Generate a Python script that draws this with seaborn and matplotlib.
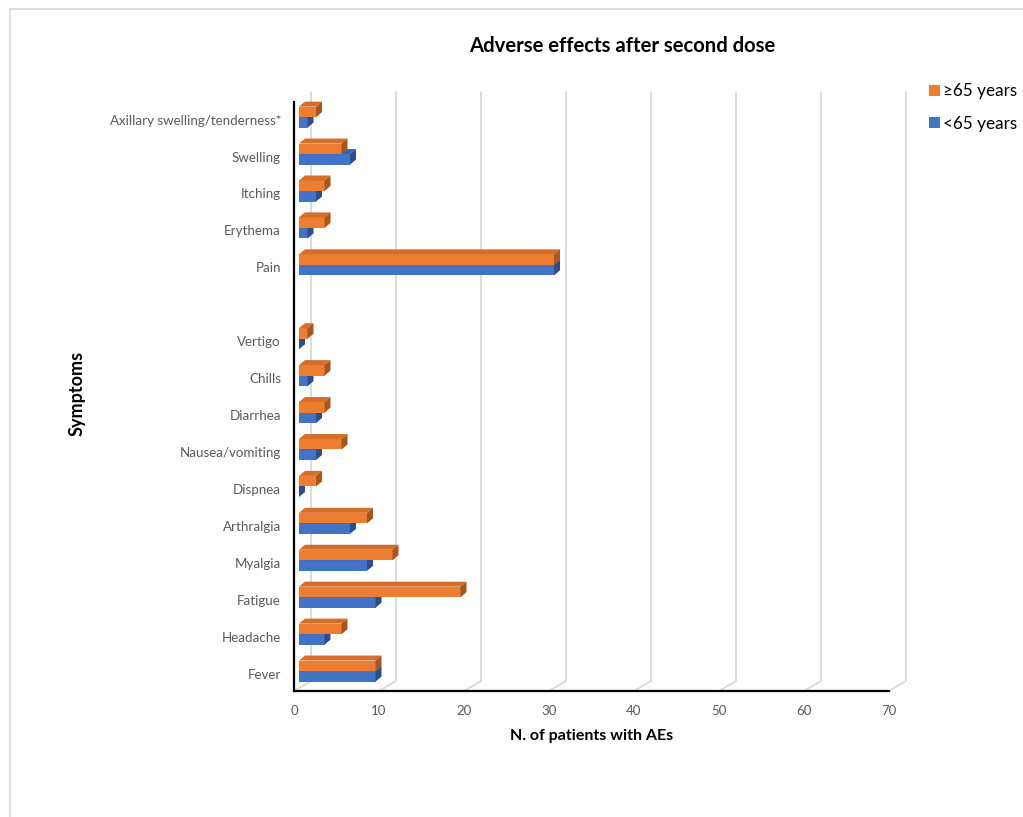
import numpy as np
import pandas as pd
import seaborn as sns
import matplotlib
matplotlib.use("Agg")
import matplotlib.pyplot as plt
from matplotlib.patches import Polygon, Patch
from matplotlib.lines import Line2D
from matplotlib.transforms import ScaledTranslation, IdentityTransform

# ---------------- data ----------------
categories = ["Axillary swelling/tenderness*", "Swelling", "Itching", "Erythema", "Pain",
              " ",
              "Vertigo", "Chills", "Diarrhea", "Nausea/vomiting", "Dispnea",
              "Arthralgia", "Myalgia", "Fatigue", "Headache", "Fever"]
symptoms = ["Axillary swelling/tenderness*", "Swelling", "Itching", "Erythema", "Pain",
            "Vertigo", "Chills", "Diarrhea", "Nausea/vomiting", "Dispnea",
            "Arthralgia", "Myalgia", "Fatigue", "Headache", "Fever"]
over65 = [2, 5, 3, 3, 30, 1, 3, 3, 5, 2, 8, 11, 19, 5, 9]
under65 = [1, 6, 2, 1, 30, 0, 1, 2, 2, 0, 6, 8, 9, 3, 9]
series = ["≥65 years", "<65 years"]
x_ticks = [0, 10, 20, 30, 40, 50, 60, 70]

df = pd.DataFrame({
    "Symptom": symptoms * 2,
    "Group": [series[0]] * len(symptoms) + [series[1]] * len(symptoms),
    "N": over65 + under65,
})

ORANGE = "#ED7D31"
BLUE = "#4472C4"
ORANGE_TOP = "#D46E2A"
ORANGE_SIDE = "#A9551C"
BLUE_TOP = "#3A63AE"
BLUE_SIDE = "#2C4F8C"
GRID = "#D9D9D9"
TXT = "#595959"

FONT = ["Lato", "DejaVu Sans"]
sns.set_theme(style="white")
plt.rcParams["font.family"] = FONT

W, H = 1023, 817
fig = plt.figure(figsize=(W / 100, H / 100), dpi=100)
ax = fig.add_axes([294 / W, 126 / H, 595 / W, 589 / H])

sns.barplot(data=df, y="Symptom", x="N", hue="Group", order=categories,
            hue_order=series, palette=[ORANGE, BLUE], width=0.57,
            orient="h", ax=ax, legend=False, errorbar=None, saturation=1)

ax.set_xlim(0, 70)
ax.set_ylim(15.54, -0.41)

# shift bars slightly into depth (front face begins a few px right of axis)
shift = ScaledTranslation(5 / 100, 0, fig.dpi_scale_trans)
tr = ax.transData + shift

# pixel -> data offsets for 3D faces
px_x = 595 / 70.0
px_y = 589 / (15.54 + 0.41)
dx = 6 / px_x
dy = 5 / px_y

for p in list(ax.patches):
    fc = p.get_facecolor()
    is_orange = abs(fc[0] - matplotlib.colors.to_rgba(ORANGE)[0]) < 0.05
    x0, w = p.get_x(), p.get_width()
    y0, h = p.get_y(), p.get_height()
    if np.isnan(w):
        continue
    x1 = x0 + w
    ytop, ybot = y0, y0 + h  # inverted axis: smaller y is higher
    z = 3 if is_orange else 2
    p.set_transform(tr)
    p.set_zorder(z)
    p.set_edgecolor("none")
    top = Polygon([(x0, ytop), (x0 + dx, ytop - dy), (x1 + dx, ytop - dy), (x1, ytop)],
                  closed=True, facecolor=ORANGE_TOP if is_orange else BLUE_TOP,
                  edgecolor="none", transform=tr, zorder=z, clip_on=False)
    side = Polygon([(x1, ytop), (x1 + dx, ytop - dy), (x1 + dx, ybot - dy), (x1, ybot)],
                   closed=True, facecolor=ORANGE_SIDE if is_orange else BLUE_SIDE,
                   edgecolor="none", transform=tr, zorder=z, clip_on=False)
    ax.add_patch(top)
    ax.add_patch(side)

# spines / axes styling
for s in ["top", "right"]:
    ax.spines[s].set_visible(False)
for s in ["left", "bottom"]:
    ax.spines[s].set_color("black")
    ax.spines[s].set_linewidth(1.6)
    ax.spines[s].set_zorder(5)
ax.set_facecolor("none")
ax.grid(False)

ax.set_xticks(x_ticks)
ax.set_xticklabels([str(t) for t in x_ticks])
ax.tick_params(axis="x", length=0, pad=10, labelsize=9.5, labelcolor=TXT)
ax.tick_params(axis="y", length=0, pad=9.4, labelsize=9.6, labelcolor=TXT)
lab_shift = ScaledTranslation(0, -2.5 / 100, fig.dpi_scale_trans)
for lab in ax.get_yticklabels():
    lab.set_transform(lab.get_transform() + lab_shift)

ax.set_xlabel("N. of patients with AEs", fontsize=11.5, fontweight="bold",
              color="black", labelpad=9)
ax.set_ylabel("Symptoms", fontsize=13, fontweight="bold", color="black", labelpad=0)
ax.yaxis.set_label_coords(-0.351, 0.505)

# back-wall gridlines with diagonal floor connectors (derived from axis scale)
fig.canvas.draw()
for t in x_ticks:
    fx, fy = ax.transData.transform((t, 15.54))
    bx, by = fx + 17, fy + 10
    topy = H - 92
    ax.add_line(Line2D([fx, bx], [fy, by], transform=IdentityTransform(), color=GRID,
                       lw=1.3, zorder=1, clip_on=False))
    ax.add_line(Line2D([bx, bx], [by, topy], transform=IdentityTransform(), color=GRID,
                       lw=1.3, zorder=1, clip_on=False))

# title
fig.text(622 / W, 1 - 46 / H, "Adverse effects after second dose", ha="center",
         va="center", fontsize=14.6, fontweight="bold", color="black")

# legend
handles = [Patch(facecolor=ORANGE, edgecolor="none"), Patch(facecolor=BLUE, edgecolor="none")]
fig.legend(handles, series, loc="upper left", bbox_to_anchor=(914 / W, 1 - 68 / H),
           frameon=False, fontsize=12.3, handlelength=0.6, handleheight=0.6,
           handletextpad=0.2, labelspacing=0.95, labelcolor="black")

# outer frame (cropped border)
fig.add_artist(Line2D([10 / W, 10 / W], [0, 1 - 9 / H], transform=fig.transFigure,
                      color=GRID, lw=1.2))
fig.add_artist(Line2D([10 / W, 1], [1 - 9 / H, 1 - 9 / H], transform=fig.transFigure,
                      color=GRID, lw=1.2))

fig.savefig("out.png", dpi=100, facecolor="white")
